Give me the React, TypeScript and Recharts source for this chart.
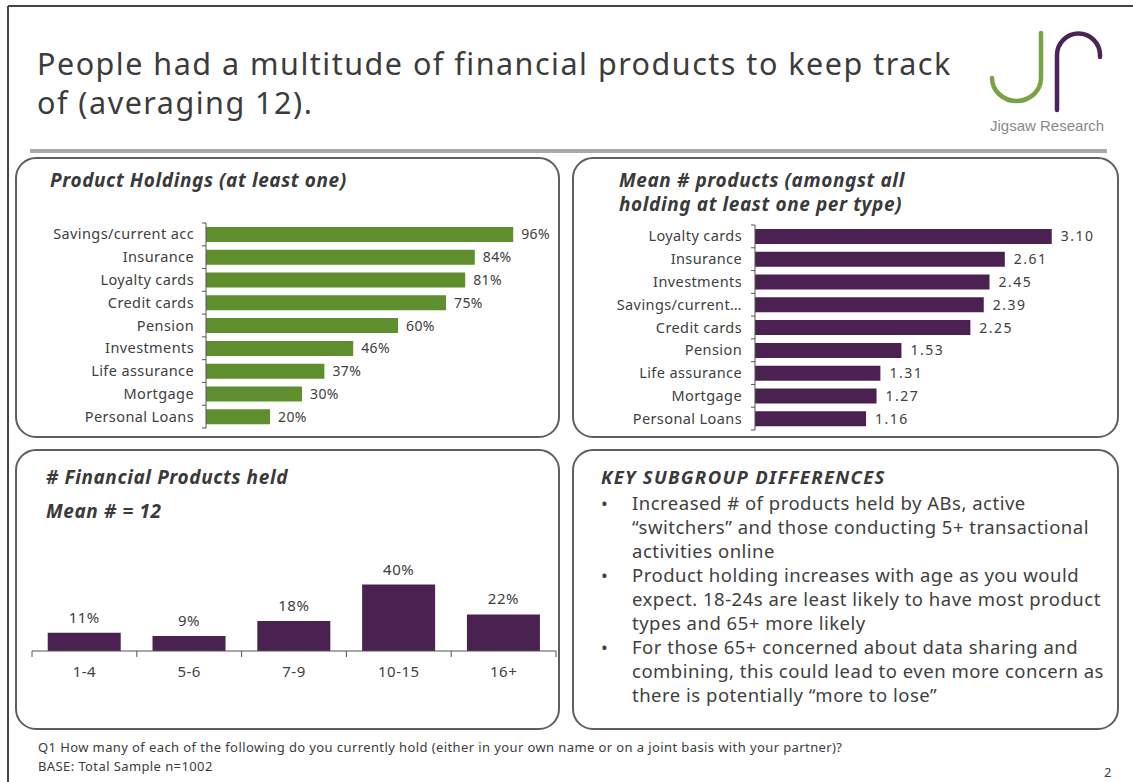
import React from 'react';
import { BarChart, Bar, XAxis, YAxis, LabelList } from 'recharts';

// ---------- DATA ----------
const holdingCategories = ['Savings/current acc', 'Insurance', 'Loyalty cards', 'Credit cards', 'Pension', 'Investments', 'Life assurance', 'Mortgage', 'Personal Loans'];
const holdingValues = [96, 84, 81, 75, 60, 46, 37, 30, 20];

const meanCategories = ['Loyalty cards', 'Insurance', 'Investments', 'Savings/current acc', 'Credit cards', 'Pension', 'Life assurance', 'Mortgage', 'Personal Loans'];
const meanValues = [3.10, 2.61, 2.45, 2.39, 2.25, 1.53, 1.31, 1.27, 1.16];

const countCategories = ['1-4', '5-6', '7-9', '10-15', '16+'];
const countValues = [11, 9, 18, 40, 22];

const titleLines = ['People had a multitude of financial products to keep track', 'of (averaging 12).'];
const bulletItems = [
  ['Increased # of products held by ABs, active', '\u201Cswitchers\u201D and those conducting 5+ transactional', 'activities online'],
  ['Product holding increases with age as you would', 'expect. 18-24s are least likely to have most product', 'types and 65+ more likely'],
  ['For those 65+ concerned about data sharing and', 'combining, this could lead to even more concern as', 'there is potentially \u201Cmore to lose\u201D'],
];
const footerLines = ['Q1 How many of each of the following do you currently hold (either in your own name or on a joint basis with your partner)?', 'BASE: Total Sample n=1002'];

const holdingsData = holdingCategories.map((name, i) => ({ name, value: holdingValues[i] }));
const meanData = meanCategories.map((name, i) => ({ name, value: meanValues[i] }));
const countData = countCategories.map((name, i) => ({ name, value: countValues[i] }));

// ---------- STYLE ----------
const FONT = "'Noto Sans', 'DejaVu Sans', sans-serif";
const TEXT = '#404040';
const GREEN = '#5e8e2e';
const PURPLE = '#4a2150';
const AXIS = '#555555';

const truncate = (v: string) => (v.length > 16 ? v.slice(0, 15) + '\u2026' : v);

function CategoryTickY(props: any) {
  const { x, y, payload, index, visibleTicksCount, gap, band, fmt } = props;
  const axisX = x + gap;
  const half = band / 2;
  const label = fmt ? fmt(payload.value) : payload.value;
  return (
    <g>
      <line x1={axisX - 4} x2={axisX} y1={y - half} y2={y - half} stroke={AXIS} strokeWidth={1} />
      {index === visibleTicksCount - 1 && (
        <line x1={axisX - 4} x2={axisX} y1={y + half} y2={y + half} stroke={AXIS} strokeWidth={1} />
      )}
      <text x={x} y={y} dy={5} textAnchor="end" fill={TEXT} fontSize={14.5} letterSpacing={0.4} fontFamily={FONT}>
        {label}
      </text>
    </g>
  );
}

function CategoryTickX(props: any) {
  const { x, y, payload, index, visibleTicksCount, gap, band } = props;
  const axisY = y - gap;
  const half = band / 2;
  return (
    <g>
      <line x1={x - half} x2={x - half} y1={axisY} y2={axisY + 6} stroke={AXIS} strokeWidth={1} />
      {index === visibleTicksCount - 1 && (
        <line x1={x + half} x2={x + half} y1={axisY} y2={axisY + 6} stroke={AXIS} strokeWidth={1} />
      )}
      <text x={x} y={axisY + 26} textAnchor="middle" fill={TEXT} fontSize={15} letterSpacing={0.5} fontFamily={FONT}>
        {payload.value}
      </text>
    </g>
  );
}

// chart layout
const C1 = { left: 16, top: 210, width: 543, height: 225, m: { top: 13, right: 33, bottom: 7, left: 0 }, yw: 190 };
const C2 = { left: 573, top: 212, width: 545, height: 225, m: { top: 13, right: 28, bottom: 7, left: 0 }, yw: 182 };
const C3 = { left: 16, top: 540, width: 543, height: 150, m: { top: 28, right: 3, bottom: 0, left: 16 }, xh: 39 };
const band1 = (C1.height - C1.m.top - C1.m.bottom) / holdingCategories.length;
const band2 = (C2.height - C2.m.top - C2.m.bottom) / meanCategories.length;
const band3 = (C3.width - C3.m.left - C3.m.right) / countCategories.length;

function Panel({ x, y, w, h }: { x: number; y: number; w: number; h: number }) {
  return <rect x={x} y={y} width={w} height={h} rx={20} ry={20} fill="none" stroke="#5f5f5f" strokeWidth={2} />;
}

const titleStyle = { fontSize: 19, fontStyle: 'italic' as const, fontWeight: 700, letterSpacing: 0.6 };

export default function App() {
  return (
    <div style={{ position: 'absolute', left: 0, top: 0, width: 1133, height: 782, background: '#fff', overflow: 'hidden', fontFamily: FONT }}>
      <svg width={1133} height={782} style={{ position: 'absolute', left: 0, top: 0 }}>
        {/* slide border */}
        <line x1={8} x2={1133} y1={6} y2={6} stroke="#444" strokeWidth={2} />
        <line x1={8} x2={8} y1={6} y2={782} stroke="#444" strokeWidth={2} />
        {/* title */}
        {titleLines.map((t, i) => (
          <text key={i} x={37} y={75 + i * 39} fontSize={30.5} letterSpacing={1.5} fill="#3c3c3c" fontFamily={FONT}>{t}</text>
        ))}
        {/* logo */}
        <path d="M1041,33 L1041,78 A24.5,23 0 0 1 992,78" fill="none" stroke="#78a446" strokeWidth={4.5} strokeLinecap="round" />
        <path d="M1057,110 L1057,55 A21.5,21.5 0 0 1 1100,55 L1100,57" fill="none" stroke="#4b2457" strokeWidth={4.5} strokeLinecap="round" />
        <text x={990} y={131} fontSize={15} fill="#8a8a8a" fontFamily="'Liberation Sans', Arial, sans-serif">Jigsaw Research</text>
        {/* separator */}
        <rect x={30} y={149} width={1077} height={4} fill="#a9a9a9" />
        {/* panels */}
        <Panel x={16} y={158} w={543} h={279} />
        <Panel x={573} y={158} w={545} h={279} />
        <Panel x={16} y={450} w={543} h={279} />
        <Panel x={573} y={450} w={545} h={279} />
        {/* panel titles */}
        <text x={50} y={187} {...titleStyle} fill="#3a3a3a" fontFamily={FONT}>Product Holdings (at least one)</text>
        <text x={619} y={187} {...titleStyle} fill="#3a3a3a" fontFamily={FONT}>Mean # products (amongst all</text>
        <text x={619} y={211} {...titleStyle} fill="#3a3a3a" fontFamily={FONT}>holding at least one per type)</text>
        <text x={46} y={484} {...titleStyle} fill="#3a3a3a" fontFamily={FONT}># Financial Products held</text>
        <text x={46} y={518} {...titleStyle} fill="#3a3a3a" fontFamily={FONT}>Mean # = 12</text>
        <text x={601} y={484} fontSize={18.5} fontStyle="italic" fontWeight={700} letterSpacing={1.3} fill="#3a3a3a" fontFamily={FONT}>KEY SUBGROUP DIFFERENCES</text>
        {/* bullets */}
        {bulletItems.map((item, bi) => {
          const start = bulletItems.slice(0, bi).reduce((s, it) => s + it.length, 0);
          return (
            <g key={bi}>
              <text x={601} y={510 + start * 24} fontSize={18} fill={TEXT} fontFamily={FONT}>{'\u2022'}</text>
              {item.map((line, li) => (
                <text key={li} x={632} y={510 + (start + li) * 24} fontSize={18.5} letterSpacing={0.5} fill={TEXT} fontFamily={FONT}>{line}</text>
              ))}
            </g>
          );
        })}
        {/* footer */}
        {footerLines.map((t, i) => (
          <text key={i} x={38} y={752 + i * 19} fontSize={13} letterSpacing={0.4} fill="#3c3c3c" fontFamily={FONT}>{t}</text>
        ))}
        <text x={1104} y={777} fontSize={13} fill="#3c3c3c" fontFamily={FONT}>2</text>
      </svg>

      {/* Chart 1: Product holdings */}
      <div style={{ position: 'absolute', left: C1.left, top: C1.top }}>
        <BarChart width={C1.width} height={C1.height} data={holdingsData} layout="vertical" margin={C1.m}>
          <XAxis type="number" domain={[0, 100]} hide />
          <YAxis
            type="category"
            dataKey="name"
            width={C1.yw}
            axisLine={{ stroke: AXIS, strokeWidth: 1 }}
            tickLine={false}
            tickSize={0}
            tickMargin={12}
            interval={0}
            tick={<CategoryTickY gap={12} band={band1} />}
          />
          <Bar dataKey="value" fill={GREEN} barSize={15} isAnimationActive={false}>
            <LabelList dataKey="value" position="right" offset={8} formatter={(v: any) => `${v}%`} fill={TEXT} fontSize={14} letterSpacing={0.4} fontFamily={FONT} />
          </Bar>
        </BarChart>
      </div>

      {/* Chart 2: Mean # products */}
      <div style={{ position: 'absolute', left: C2.left, top: C2.top }}>
        <BarChart width={C2.width} height={C2.height} data={meanData} layout="vertical" margin={C2.m}>
          <XAxis type="number" domain={[0, 3.5]} hide />
          <YAxis
            type="category"
            dataKey="name"
            width={C2.yw}
            axisLine={{ stroke: AXIS, strokeWidth: 1 }}
            tickLine={false}
            tickSize={0}
            tickMargin={13}
            interval={0}
            tick={<CategoryTickY gap={13} band={band2} fmt={truncate} />}
          />
          <Bar dataKey="value" fill={PURPLE} barSize={15} isAnimationActive={false}>
            <LabelList dataKey="value" position="right" offset={9} formatter={(v: any) => Number(v).toFixed(2)} fill={TEXT} fontSize={14} letterSpacing={1.5} fontFamily={FONT} />
          </Bar>
        </BarChart>
      </div>

      {/* Chart 3: # financial products held */}
      <div style={{ position: 'absolute', left: C3.left, top: C3.top }}>
        <BarChart width={C3.width} height={C3.height} data={countData} margin={C3.m} barCategoryGap="15%">
          <XAxis
            type="category"
            dataKey="name"
            height={C3.xh}
            axisLine={{ stroke: AXIS, strokeWidth: 1 }}
            tickLine={false}
            tickSize={0}
            tickMargin={10}
            interval={0}
            tick={<CategoryTickX gap={10} band={band3} />}
          />
          <YAxis type="number" domain={[0, 50]} hide />
          <Bar dataKey="value" fill={PURPLE} isAnimationActive={false}>
            <LabelList dataKey="value" position="top" offset={10} formatter={(v: any) => `${v}%`} fill={TEXT} fontSize={15} letterSpacing={0.5} fontFamily={FONT} />
          </Bar>
        </BarChart>
      </div>
    </div>
  );
}
